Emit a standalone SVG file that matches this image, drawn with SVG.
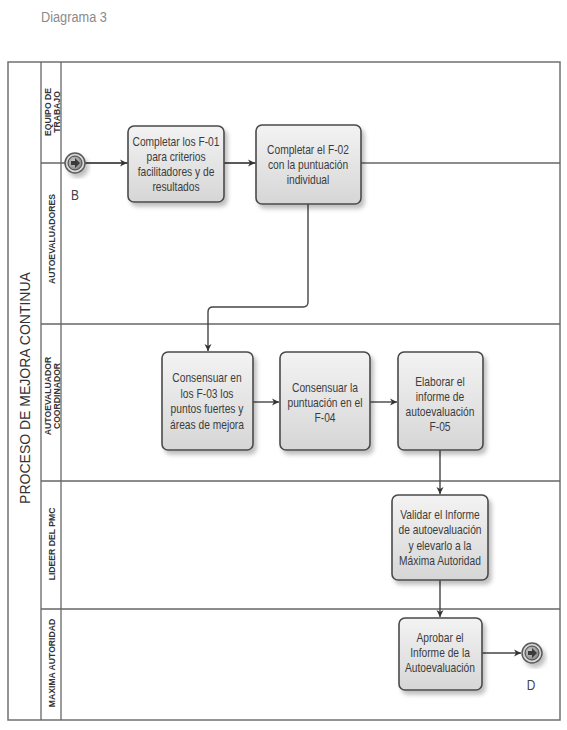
<svg xmlns="http://www.w3.org/2000/svg" width="567" height="730" viewBox="0 0 567 730">
<style>
.frame{fill:none;stroke:#707070;stroke-width:1.5}
.lane{stroke:#666;stroke-width:1.3;fill:none}
.task{fill:url(#g);stroke:#4a4a4a;stroke-width:1.6}
.tt{font-family:"Liberation Sans",Arial,sans-serif;font-size:12.8px;fill:#3c3c3c;text-anchor:middle}
.ll{font-family:"Liberation Sans",Arial,sans-serif;font-size:9.4px;font-weight:bold;fill:#333;text-anchor:middle}
.flow{fill:none;stroke:#454545;stroke-width:1.4}
.ev{font-family:"Liberation Sans",Arial,sans-serif;font-size:14px;fill:#444;text-anchor:middle}
</style>
<defs>
<linearGradient id="g" x1="0" y1="0" x2="0" y2="1">
<stop offset="0" stop-color="#f3f3f3"/>
<stop offset="1" stop-color="#d6d6d6"/>
</linearGradient>
<radialGradient id="eg" cx="0.4" cy="0.4" r="0.6">
<stop offset="0" stop-color="#cfcfcf"/>
<stop offset="1" stop-color="#8a8a8a"/>
</radialGradient>
<filter id="sh" x="-20%" y="-20%" width="150%" height="150%">
<feDropShadow dx="3" dy="4" stdDeviation="2.2" flood-color="#000" flood-opacity="0.25"/>
</filter>
<marker id="ah" markerWidth="8" markerHeight="8" refX="7" refY="4" orient="auto" markerUnits="userSpaceOnUse">
<path d="M0,0.5 L7,4 L0,7.5 L2,4 Z" fill="#333"/>
</marker>
<g id="evt">
<circle r="10" fill="#d8d8d8" stroke="#5a5a5a" stroke-width="1.5"/>
<circle r="7" fill="url(#eg)" stroke="#444" stroke-width="1"/>
<path d="M-4,-2 H0 V-5 L5,0 L0,5 V2 H-4 Z" fill="#3a3a3a"/>
</g>
</defs>
<rect width="567" height="730" fill="#fff"/>
<text transform="translate(41,22) scale(0.85,1)" font-family="Liberation Sans,Arial,sans-serif" font-size="15" fill="#8a8a8a">Diagrama 3</text>

<g id="pool">
<rect class="frame" x="8" y="62" width="552" height="658"/>
<line class="lane" x1="41" y1="62" x2="41" y2="720"/>
<line class="lane" x1="61" y1="62" x2="61" y2="720"/>
<line class="lane" x1="41" y1="163" x2="560" y2="163"/>
<line class="lane" x1="41" y1="324" x2="560" y2="324"/>
<line class="lane" x1="41" y1="481" x2="560" y2="481"/>
<line class="lane" x1="41" y1="609" x2="560" y2="609"/>
<text transform="translate(30,388) rotate(-90)" font-family="Liberation Sans,Arial,sans-serif" font-size="14" fill="#333" text-anchor="middle">PROCESO DE MEJORA CONTINUA</text>
</g>

<g id="lane-equipo">
<text class="ll" transform="translate(50.5,112) rotate(-90) scale(0.92,1)">EQUIPO DE</text>
<text class="ll" transform="translate(59.5,112) rotate(-90) scale(0.92,1)">TRABAJO</text>
</g>
<g id="lane-autoevaluadores">
<text class="ll" transform="translate(55,239) rotate(-90) scale(0.92,1)">AUTOEVALUADORES</text>
</g>
<g id="lane-coordinador">
<text class="ll" transform="translate(50.5,396) rotate(-90) scale(0.92,1)">AUTOEVALUADOR</text>
<text class="ll" transform="translate(59.5,396) rotate(-90) scale(0.92,1)">COORDINADOR</text>
</g>
<g id="lane-lider">
<text class="ll" transform="translate(55,544) rotate(-90) scale(0.92,1)">LIDEER DEL PMC</text>
</g>
<g id="lane-maxima">
<text class="ll" transform="translate(55,663) rotate(-90) scale(0.92,1)">MAXIMA AUTORIDAD</text>
</g>

<g id="connectors">
<line class="flow" x1="85" y1="163" x2="127" y2="163" marker-end="url(#ah)"/>
<line class="flow" x1="224" y1="163" x2="255" y2="163" marker-end="url(#ah)"/>
<path class="flow" d="M308,204 V302 Q308,307 303,307 H213 Q208,307 208,312 V351" marker-end="url(#ah)"/>
<line class="flow" x1="253" y1="402" x2="279" y2="402" marker-end="url(#ah)"/>
<line class="flow" x1="370" y1="402" x2="397" y2="402" marker-end="url(#ah)"/>
<line class="flow" x1="440" y1="450" x2="440" y2="494" marker-end="url(#ah)"/>
<line class="flow" x1="440" y1="580" x2="440" y2="617" marker-end="url(#ah)"/>
<line class="flow" x1="482" y1="653" x2="521" y2="653" marker-end="url(#ah)"/>
</g>

<g id="start-B">
<use href="#evt" x="75" y="163" filter="url(#sh)"/>
<text class="ev" transform="translate(75,200) scale(0.85,1)">B</text>
</g>

<g id="task-f01">
<rect class="task" x="128" y="126" width="96" height="76" rx="6" filter="url(#sh)"/>
<text class="tt" transform="translate(176,146) scale(0.8,1)">Completar los F-01</text>
<text class="tt" transform="translate(176,161) scale(0.8,1)">para criterios</text>
<text class="tt" transform="translate(176,176) scale(0.8,1)">facilitadores y de</text>
<text class="tt" transform="translate(176,191) scale(0.8,1)">resultados</text>
</g>

<g id="task-f02">
<rect class="task" x="256" y="125" width="105" height="79" rx="6" filter="url(#sh)"/>
<text class="tt" transform="translate(308,154) scale(0.8,1)">Completar el F-02</text>
<text class="tt" transform="translate(308,169) scale(0.8,1)">con la puntuación</text>
<text class="tt" transform="translate(308,184) scale(0.8,1)">individual</text>
</g>

<g id="task-f03">
<rect class="task" x="162" y="352" width="91" height="98" rx="6" filter="url(#sh)"/>
<text class="tt" transform="translate(207,382) scale(0.8,1)">Consensuar en</text>
<text class="tt" transform="translate(207,398) scale(0.8,1)">los F-03 los</text>
<text class="tt" transform="translate(207,413) scale(0.8,1)">puntos fuertes y</text>
<text class="tt" transform="translate(207,429) scale(0.8,1)">áreas de mejora</text>
</g>

<g id="task-f04">
<rect class="task" x="280" y="352" width="90" height="98" rx="6" filter="url(#sh)"/>
<text class="tt" transform="translate(325,392) scale(0.8,1)">Consensuar la</text>
<text class="tt" transform="translate(325,407) scale(0.8,1)">puntuación en el</text>
<text class="tt" transform="translate(325,422) scale(0.8,1)">F-04</text>
</g>

<g id="task-f05">
<rect class="task" x="398" y="352" width="85" height="98" rx="6" filter="url(#sh)"/>
<text class="tt" transform="translate(440,386) scale(0.8,1)">Elaborar el</text>
<text class="tt" transform="translate(440,401) scale(0.8,1)">informe de</text>
<text class="tt" transform="translate(440,416) scale(0.8,1)">autoevaluación</text>
<text class="tt" transform="translate(440,431) scale(0.8,1)">F-05</text>
</g>

<g id="task-validar">
<rect class="task" x="392" y="495" width="96" height="85" rx="6" filter="url(#sh)"/>
<text class="tt" transform="translate(440,519) scale(0.8,1)">Validar el Informe</text>
<text class="tt" transform="translate(440,534) scale(0.8,1)">de autoevaluación</text>
<text class="tt" transform="translate(440,550) scale(0.8,1)">y elevarlo a la</text>
<text class="tt" transform="translate(440,565) scale(0.8,1)">Máxima Autoridad</text>
</g>

<g id="task-aprobar">
<rect class="task" x="399" y="618" width="83" height="72" rx="6" filter="url(#sh)"/>
<text class="tt" transform="translate(440,642) scale(0.8,1)">Aprobar el</text>
<text class="tt" transform="translate(440,657) scale(0.8,1)">Informe de la</text>
<text class="tt" transform="translate(440,672) scale(0.8,1)">Autoevaluación</text>
</g>

<g id="end-D">
<use href="#evt" x="532" y="653" filter="url(#sh)"/>
<text class="ev" transform="translate(531,690) scale(0.85,1)">D</text>
</g>
</svg>
